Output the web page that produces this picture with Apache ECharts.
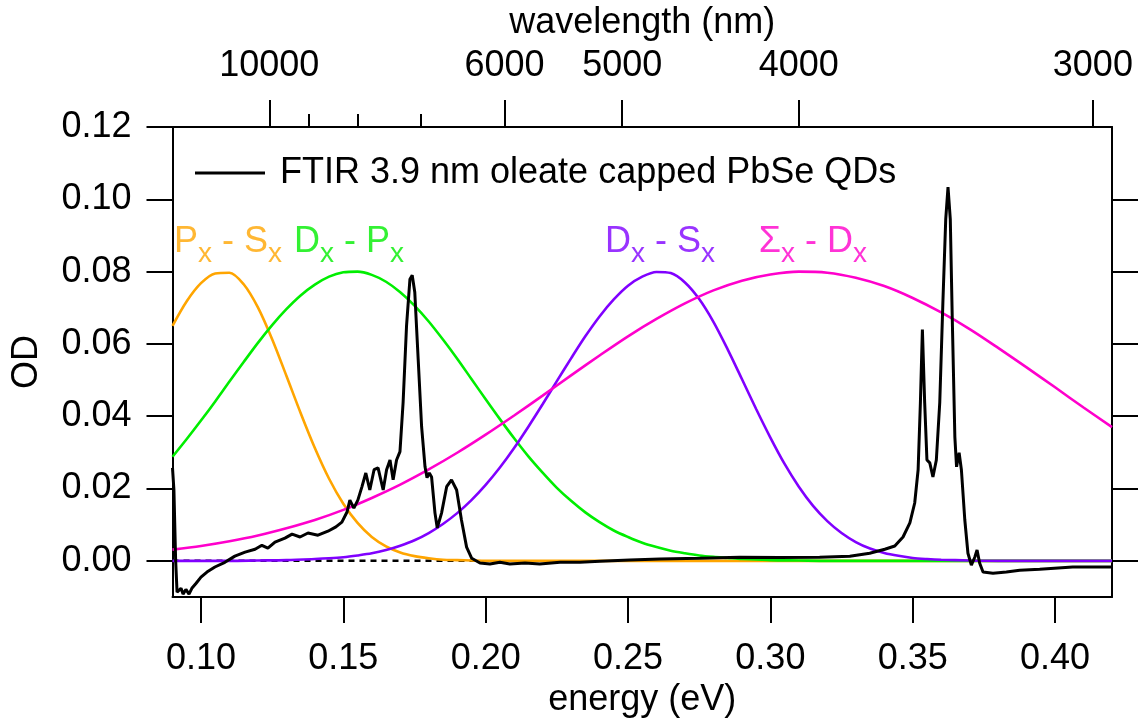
<!DOCTYPE html>
<html><head><meta charset="utf-8">
<script src="https://cdn.jsdelivr.net/npm/echarts@6/dist/echarts.min.js"></script>
<style>html,body{margin:0;padding:0;background:#fff}#c{width:1138px;height:723px}</style>
</head><body><div id="c"></div>
<script>
// ---------- data ----------
const energyTicks = [0.10, 0.15, 0.20, 0.25, 0.30, 0.35, 0.40];
const odTicks = [0, 0.02, 0.04, 0.06, 0.08, 0.10, 0.12];
const odTicksRight = [0, 0.02, 0.04, 0.06, 0.08, 0.10];
const wavelengthMajor = [10000, 6000, 5000, 4000, 3000];
const wavelengthMinor = [9000, 8000, 7000];
const HC = 1239.84; // eV*nm

const ftirE = [0.0900,0.0905,0.0911,0.0916,0.0923,0.0930,0.0937,0.0947,0.0958,0.0968,0.0983,0.1000,0.1021,0.1049,0.1084,0.1119,0.1155,0.1190,0.1214,0.1235,0.1260,0.1295,0.1320,0.1348,0.1376,0.1411,0.1446,0.1474,0.1495,0.1513,0.1523,0.1537,0.1551,0.1565,0.1579,0.1593,0.1608,0.1622,0.1640,0.1652,0.1664,0.1675,0.1687,0.1699,0.1710,0.1722,0.1734,0.1742,0.1751,0.1763,0.1775,0.1787,0.1794,0.1802,0.1810,0.1822,0.1830,0.1845,0.1863,0.1880,0.1898,0.1915,0.1933,0.1951,0.1980,0.2015,0.2050,0.2085,0.2138,0.2190,0.2261,0.2331,0.2401,0.2506,0.2612,0.2752,0.2893,0.3033,0.3173,0.3279,0.3349,0.3402,0.3437,0.3466,0.3490,0.3507,0.3519,0.3527,0.3534,0.3542,0.3550,0.3560,0.3571,0.3583,0.3595,0.3606,0.3616,0.3624,0.3632,0.3639,0.3648,0.3654,0.3663,0.3671,0.3683,0.3694,0.3706,0.3718,0.3726,0.3735,0.3747,0.3782,0.3829,0.3876,0.3946,0.4062,0.4199];
const ftirOD = [0.0257,0.0196,0.0002,-0.0087,-0.0092,-0.0076,-0.0092,-0.0079,-0.0092,-0.0076,-0.0062,-0.0045,-0.0031,-0.0017,-0.0004,0.0013,0.0024,0.0032,0.0043,0.0035,0.0052,0.0063,0.0074,0.0066,0.0077,0.0071,0.0082,0.0094,0.0107,0.0135,0.0168,0.0146,0.0168,0.0204,0.0243,0.0196,0.0252,0.0257,0.0196,0.0252,0.0279,0.0224,0.0279,0.0302,0.0438,0.0649,0.0779,0.0790,0.0743,0.0557,0.0371,0.0260,0.0230,0.0243,0.0232,0.0132,0.0091,0.0132,0.0205,0.0224,0.0196,0.0113,0.0038,0.0007,-0.0006,-0.0009,-0.0004,-0.0009,-0.0006,-0.0009,-0.0004,-0.0004,-0.0001,0.0002,0.0005,0.0007,0.0010,0.0009,0.0010,0.0013,0.0021,0.0032,0.0041,0.0066,0.0105,0.0160,0.0252,0.0438,0.0640,0.0438,0.0279,0.0271,0.0232,0.0279,0.0438,0.0715,0.0945,0.1034,0.0945,0.0668,0.0343,0.0260,0.0299,0.0252,0.0113,0.0021,-0.0012,0.0010,0.0030,-0.0006,-0.0031,-0.0034,-0.0031,-0.0026,-0.0023,-0.0017,-0.0017];

const baselineE = [0.09, 0.197];
const baselineOD = [0, 0];

const pxSxE = [0.090,0.095,0.100,0.105,0.110,0.115,0.120,0.125,0.130,0.135,0.140,0.145,0.150,0.155,0.160,0.165,0.170,0.175,0.180,0.185,0.190,0.195,0.200,0.250,0.420];
const pxSxOD = [0.0650,0.0718,0.0768,0.0795,0.0797,0.0765,0.0701,0.0613,0.0512,0.0409,0.0312,0.0227,0.0158,0.0105,0.0066,0.0040,0.0023,0.0013,0.0007,0.0003,0.0002,0.0001,0.0000,0,0];

const dxPxE = [0.090,0.095,0.100,0.105,0.110,0.115,0.120,0.125,0.130,0.135,0.140,0.145,0.150,0.155,0.160,0.165,0.170,0.175,0.180,0.185,0.190,0.195,0.200,0.205,0.210,0.215,0.220,0.225,0.230,0.235,0.240,0.245,0.250,0.255,0.260,0.265,0.270,0.275,0.280,0.285,0.290,0.295,0.300,0.310,0.320,0.420];
const dxPxOD = [0.0288,0.0337,0.0388,0.0441,0.0496,0.0550,0.0603,0.0652,0.0696,0.0734,0.0764,0.0786,0.0798,0.0800,0.0791,0.0772,0.0743,0.0706,0.0662,0.0612,0.0559,0.0503,0.0447,0.0392,0.0339,0.0289,0.0244,0.0202,0.0166,0.0134,0.0107,0.0084,0.0066,0.0050,0.0038,0.0028,0.0021,0.0015,0.0011,0.0008,0.0005,0.0004,0.0002,0.0001,0,0];

const dxSxE = [0.090,0.100,0.110,0.120,0.130,0.140,0.145,0.150,0.155,0.160,0.165,0.170,0.175,0.180,0.185,0.190,0.195,0.200,0.205,0.210,0.215,0.220,0.225,0.230,0.235,0.240,0.245,0.250,0.255,0.260,0.265,0.270,0.275,0.280,0.285,0.290,0.295,0.300,0.305,0.310,0.315,0.320,0.325,0.330,0.335,0.340,0.345,0.350,0.355,0.360,0.370,0.380,0.420];
const dxSxOD = [0,0,0,0.0001,0.0002,0.0005,0.0007,0.0010,0.0015,0.0021,0.0030,0.0042,0.0057,0.0077,0.0102,0.0132,0.0168,0.0210,0.0258,0.0312,0.0371,0.0433,0.0497,0.0560,0.0621,0.0676,0.0723,0.0761,0.0786,0.0799,0.0796,0.0770,0.0724,0.0661,0.0585,0.0503,0.0420,0.0341,0.0268,0.0205,0.0152,0.0110,0.0077,0.0052,0.0034,0.0022,0.0014,0.0008,0.0005,0.0003,0.0001,0,0];

const sgDxE = [0.09,0.10,0.11,0.12,0.13,0.14,0.15,0.16,0.17,0.18,0.19,0.20,0.21,0.22,0.23,0.24,0.25,0.26,0.27,0.28,0.29,0.30,0.31,0.32,0.33,0.34,0.35,0.36,0.37,0.38,0.39,0.40,0.41,0.42];
const sgDxOD = [0.0031,0.0041,0.0054,0.0070,0.0090,0.0113,0.0141,0.0174,0.0211,0.0253,0.0299,0.0349,0.0402,0.0457,0.0513,0.0568,0.0621,0.0669,0.0712,0.0748,0.0775,0.0792,0.0800,0.0797,0.0783,0.0760,0.0727,0.0687,0.0641,0.0589,0.0535,0.0480,0.0424,0.0370];

// annotation texts and their anchors (energy, OD)
const annoText = ['{m|P}{s|x}{m| - S}{s|x}', '{m|D}{s|x}{m| - P}{s|x}', '{m|D}{s|x}{m| - S}{s|x}', '{m|\u03A3}{s|x}{m| - D}{s|x}'];
const annoE = [0.0905, 0.1327, 0.2419, 0.2959];
const annoOD = [0.0883, 0.0883, 0.0883, 0.0883];

const legendName = 'FTIR 3.9 nm oleate capped PbSe QDs';
// ---------- styles ----------
const COL = {black:'#000000', orange:'#FFA500', green:'#00EE00', purple:'#8000FF', magenta:'#FF00CC'};
const FONT = "'Liberation Sans', Arial, Helvetica, sans-serif";
const FS = 36;

const zip = (a, b) => a.map((v, i) => [v, b[i]]);
const toE = wl => HC / wl;

const lineSeries = (name, xs, ys, color, width, extra) => Object.assign({
  name, type: 'line', data: zip(xs, ys), showSymbol: false, symbol: 'none',
  lineStyle: {color, width}, itemStyle: {color}, animation: false, silent: true, z: 3
}, extra || {});

const chart = echarts.init(document.getElementById('c'), null, {renderer: 'canvas'});
const axisLine = {show: true, onZero: false, lineStyle: {color: '#000', width: 2}};
const tickStyle = {color: '#000', width: 2};

chart.setOption({
  animation: false,
  backgroundColor: '#fff',
  textStyle: {fontFamily: FONT},
  grid: {left: 172.5, right: 26, top: 127, bottom: 126, containLabel: false},
  legend: {
    data: [{name: legendName, icon: 'rect'}], left: 195, top: 155, padding: 0,
    itemWidth: 70, itemHeight: 3,
    itemStyle: {color: '#000'},
    textStyle: {fontSize: FS, color: '#000', fontFamily: FONT, padding: [0, 0, 0, 10]}
  },
  xAxis: [
    {type: 'value', position: 'bottom', min: 0.09, max: 0.42,
      axisLine, splitLine: {show: false},
      axisTick: {show: true, inside: false, length: 26, lineStyle: tickStyle, customValues: energyTicks},
      axisLabel: {customValues: energyTicks, formatter: v => v.toFixed(2), fontSize: FS, color: '#000', margin: 44, fontFamily: FONT},
      name: 'energy (eV)', nameLocation: 'middle', nameGap: 84,
      nameTextStyle: {fontSize: FS, color: '#000', fontFamily: FONT}},
    {type: 'value', position: 'top', min: 0.09, max: 0.42,
      axisLine, splitLine: {show: false},
      axisTick: {show: true, inside: false, length: 27, lineStyle: tickStyle, customValues: wavelengthMajor.map(toE)},
      axisLabel: {customValues: wavelengthMajor.map(toE), formatter: v => String(Math.round(HC / v / 10) * 10), fontSize: FS, color: '#000', margin: 43, fontFamily: FONT},
      name: 'wavelength (nm)', nameLocation: 'middle', nameGap: 86,
      nameTextStyle: {fontSize: FS, color: '#000', fontFamily: FONT}},
    {type: 'value', position: 'top', min: 0.09, max: 0.42,
      axisLine: {show: false, onZero: false}, splitLine: {show: false},
      axisTick: {show: true, inside: false, length: 13, lineStyle: tickStyle, customValues: wavelengthMinor.map(toE)},
      axisLabel: {show: false}}
  ],
  yAxis: [
    {type: 'value', position: 'left', min: -0.01, max: 0.12,
      axisLine, splitLine: {show: false},
      axisTick: {show: true, inside: false, length: 26, lineStyle: tickStyle, customValues: odTicks},
      axisLabel: {customValues: odTicks, formatter: v => v.toFixed(2), fontSize: FS, color: '#000', margin: 41, fontFamily: FONT},
      name: 'OD', nameLocation: 'middle', nameGap: 127,
      nameTextStyle: {fontSize: FS, color: '#000', fontFamily: FONT}},
    {type: 'value', position: 'right', min: -0.01, max: 0.12,
      axisLine, splitLine: {show: false},
      axisTick: {show: true, inside: false, length: 26, lineStyle: tickStyle, customValues: odTicksRight},
      axisLabel: {show: false}}
  ],
  series: [
    lineSeries('baseline', baselineE, baselineOD, COL.black, 2.5, {lineStyle: {color: '#000', width: 2.5, type: [6, 5]}}),
    lineSeries('Px - Sx', pxSxE, pxSxOD, COL.orange, 2.6, {smooth: 0.3}),
    lineSeries('Dx - Px', dxPxE, dxPxOD, COL.green, 2.6, {smooth: 0.3}),
    lineSeries('Dx - Sx', dxSxE, dxSxOD, COL.purple, 2.6, {smooth: 0.3}),
    lineSeries('Σx - Dx', sgDxE, sgDxOD, COL.magenta, 2.6, {smooth: 0.3}),
    lineSeries(legendName, ftirE, ftirOD, COL.black, 3, {z: 4}),
    {
      name: 'labels', type: 'scatter', symbolSize: 0, silent: true, animation: false, z: 6,
      data: annoE.map((e, i) => ({
        value: [e, annoOD[i]],
        label: {color: [COL.orange, COL.green, COL.purple, COL.magenta][i]}
      })),
      label: {
        show: true, position: 'right', distance: 0,
        formatter: p => annoText[p.dataIndex],
        fontFamily: FONT,
        rich: {
          m: {fontSize: FS, lineHeight: 36, fontFamily: FONT},
          s: {fontSize: 28, lineHeight: 28, padding: [26, 0, 0, 0], fontFamily: FONT}
        }
      }
    }
  ]
});
</script></body></html>
